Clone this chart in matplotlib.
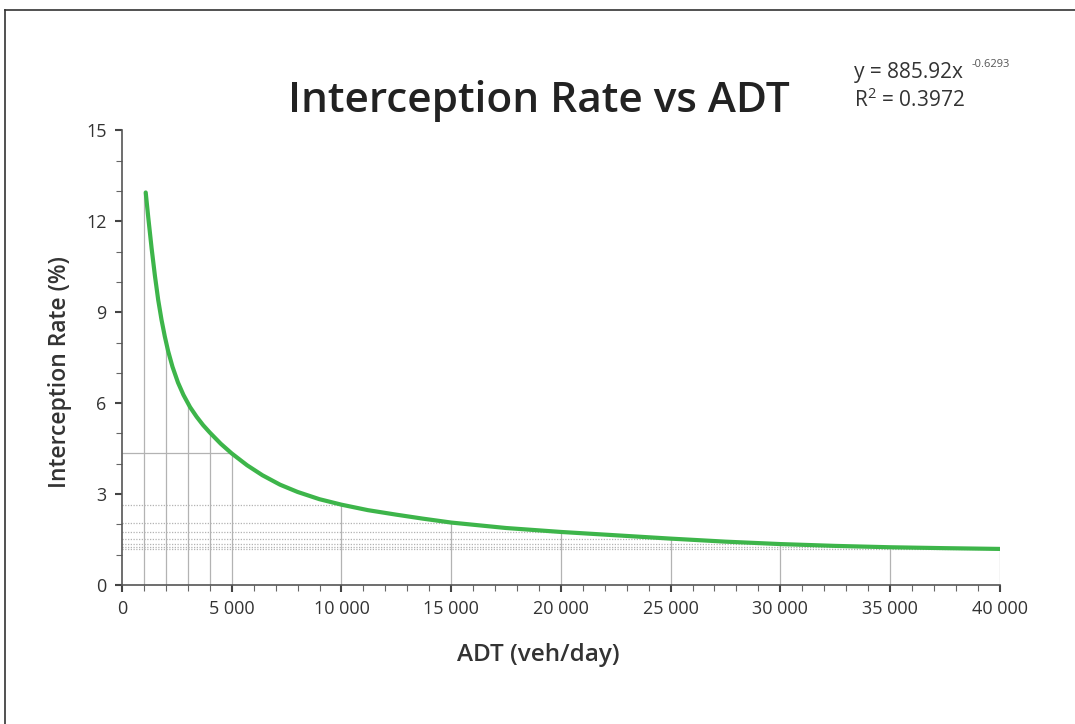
import numpy as np
import matplotlib.pyplot as plt
from matplotlib.lines import Line2D
from matplotlib.ticker import MultipleLocator, FuncFormatter

# values
adt = [1080, 1200, 1350, 1500, 1650, 1800, 1950, 2100, 2300, 2550, 2800, 3100, 3400,
       3700, 4000, 4500, 5000, 5700, 6400, 7200, 8000, 9000, 10000, 11200, 12500,
       13700, 15000, 17500, 20000, 22500, 25000, 27500, 30000, 32500, 35000, 37500, 40000]
rate = [12.95, 12.1, 11.1, 10.2, 9.4, 8.75, 8.2, 7.72, 7.2, 6.68, 6.27, 5.87, 5.55,
        5.27, 5.03, 4.66, 4.34, 3.95, 3.62, 3.31, 3.07, 2.83, 2.65, 2.47, 2.32,
        2.19, 2.06, 1.88, 1.75, 1.64, 1.53, 1.43, 1.35, 1.29, 1.245, 1.215, 1.19]

drop_x = [1000, 2000, 3000, 4000, 5000, 10000, 15000, 20000, 25000, 30000, 35000, 40000]
level_x = [5000, 10000, 15000, 20000, 25000, 30000, 35000, 40000]

fit_text = "y = 885.92x"
fit_exp = "-0.6293"
r2_text = "R$^2$ = 0.3972"

plt.rcParams['font.family'] = ['Open Sans', 'DejaVu Sans']
plt.rcParams['mathtext.fontset'] = 'custom'
plt.rcParams['mathtext.rm'] = 'Open Sans'

fig = plt.figure(figsize=(10.75, 7.24), dpi=100)
ax = fig.add_axes([0.1135, 0.192, 0.8165, 0.628])

drop_y = np.interp(drop_x, adt, rate)
level_y = np.interp(level_x, adt, rate)
ax.vlines(drop_x, 0, drop_y, color='#b3b3b3', lw=0.9, zorder=1)
for i, (lx, ly) in enumerate(zip(level_x, level_y)):
    ax.hlines(ly, 0, lx, color='#b3b3b3', lw=0.9,
              linestyles='-' if i == 0 else (0, (1, 1.2)), zorder=1)

ax.plot(adt, rate, color='#3db54a', lw=3, solid_capstyle='round',
        solid_joinstyle='round', zorder=3)

ax.set_xlim(0, 40000)
ax.set_ylim(0, 15)
ax.spines['top'].set_visible(False)
ax.spines['right'].set_visible(False)
for s in ('left', 'bottom'):
    ax.spines[s].set_color('#555555')
    ax.spines[s].set_linewidth(1.2)

ax.xaxis.set_major_locator(MultipleLocator(5000))
ax.xaxis.set_minor_locator(MultipleLocator(1000))
ax.yaxis.set_major_locator(MultipleLocator(3))
ax.yaxis.set_minor_locator(MultipleLocator(1))
ax.xaxis.set_major_formatter(FuncFormatter(lambda v, p: f"{int(v):,}".replace(",", " ")))
ax.tick_params(which='major', length=5, width=1.5, color='#444444', labelsize=13,
               labelcolor='#333333', pad=6)
ax.tick_params(which='minor', length=4, width=0.8, color='#666666')

ax.set_xlabel("ADT (veh/day)", fontsize=17.5, fontweight='semibold', color='#333333')
ax.set_ylabel("Interception Rate (%)", fontsize=16.5, fontweight='semibold', color='#333333')
ax.xaxis.set_label_coords(0.474, -0.128)
ax.yaxis.set_label_coords(-0.057, 0.468)

fig.text(0.501, 0.86, "Interception Rate vs ADT", ha='center', va='center',
         fontsize=30.5, fontweight='semibold', color='#222222')
fig.text(0.7945, 0.9, fit_text, ha='left', va='center', fontsize=15, color='#333333')
fig.text(0.904, 0.911, fit_exp, ha='left', va='center', fontsize=8, color='#555555')
fig.text(0.7945, 0.862, r2_text, ha='left', va='center', fontsize=15, color='#333333')

# outer frame of the original slide
fig.add_artist(Line2D([5 / 1075, 1], [1 - 10 / 724, 1 - 10 / 724], color='#333333', lw=1.2))
fig.add_artist(Line2D([5 / 1075, 5 / 1075], [0, 1 - 10 / 724], color='#333333', lw=1.2))

fig.savefig("out.png", dpi=100)
